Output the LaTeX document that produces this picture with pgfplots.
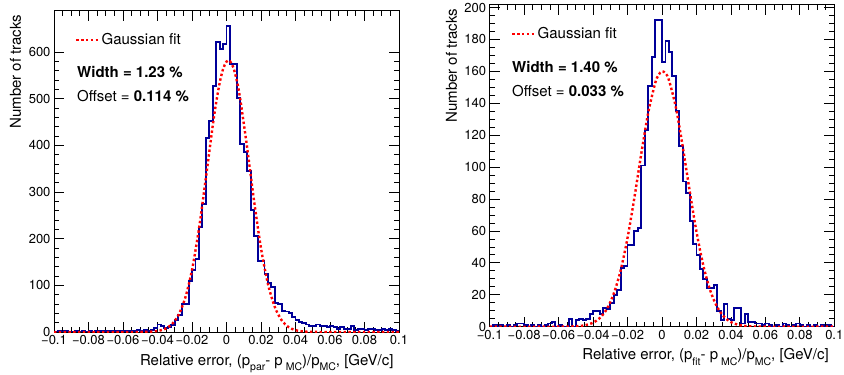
\documentclass[border=0pt]{standalone}
\usepackage{fontspec}
\setmainfont{TeX Gyre Heros}
\usepackage{pgfplots}
\usepackage{pgfplotstable}
\pgfplotsset{compat=1.18}
\definecolor{histblue}{RGB}{0,0,153}
\newcommand{\sub}[1]{\raisebox{-6pt}{\fontsize{10.5}{12}\selectfont #1}}

\pgfplotstableread{
x y
-0.100 1
-0.098 2
-0.096 1
-0.094 2
-0.092 1
-0.090 1
-0.088 2
-0.086 1
-0.084 2
-0.082 1
-0.080 2
-0.078 1
-0.076 2
-0.074 3
-0.072 2
-0.070 2
-0.068 3
-0.066 2
-0.064 2
-0.062 3
-0.060 2
-0.058 3
-0.056 3
-0.054 2
-0.052 4
-0.050 3
-0.048 4
-0.046 3
-0.044 5
-0.042 8
-0.040 16
-0.038 13
-0.036 8
-0.034 11
-0.032 15
-0.030 26
-0.028 36
-0.026 60
-0.024 60
-0.022 110
-0.020 132
-0.018 157
-0.016 226
-0.014 275
-0.012 415
-0.010 452
-0.008 527
-0.006 622
-0.004 606
-0.002 618
0.000 655
0.002 575
0.004 575
0.006 501
0.008 403
0.010 386
0.012 346
0.014 262
0.016 205
0.018 153
0.020 153
0.022 125
0.024 105
0.026 97
0.028 63
0.030 60
0.032 45
0.034 44
0.036 40
0.038 32
0.040 25
0.042 21
0.044 19
0.046 16
0.048 12
0.050 13
0.052 16
0.054 13
0.056 12
0.058 11
0.060 13
0.062 11
0.064 7
0.066 11
0.068 7
0.070 7
0.072 12
0.074 5
0.076 6
0.078 6
0.080 4
0.082 7
0.084 6
0.086 5
0.088 4
0.090 6
0.092 4
0.094 7
0.096 5
0.098 2
0.100 2
}\histA

\pgfplotstableread{
x y
-0.100 0
-0.098 1
-0.096 0
-0.094 1
-0.092 0
-0.090 1
-0.088 0
-0.086 1
-0.084 2
-0.082 2
-0.080 1
-0.078 0
-0.076 1
-0.074 0
-0.072 1
-0.070 0
-0.068 1
-0.066 2
-0.064 3
-0.062 0
-0.060 1
-0.058 0
-0.056 0
-0.054 5
-0.052 0
-0.050 4
-0.048 5
-0.046 4
-0.044 5
-0.042 8
-0.040 10
-0.038 10
-0.036 8
-0.034 12
-0.032 11
-0.030 15
-0.028 20
-0.026 23
-0.024 37
-0.022 38
-0.020 51
-0.018 51
-0.016 60
-0.014 62
-0.012 101
-0.010 123
-0.008 151
-0.006 169
-0.004 192
-0.002 192
0.000 166
0.002 179
0.004 172
0.006 157
0.008 135
0.010 113
0.012 91
0.014 84
0.016 66
0.018 52
0.020 45
0.022 36
0.024 30
0.026 24
0.028 24
0.030 26
0.032 10
0.034 4
0.036 14
0.038 5
0.040 4
0.042 12
0.044 12
0.046 2
0.048 8
0.050 3
0.052 3
0.054 2
0.056 2
0.058 1
0.060 2
0.062 1
0.064 0
0.066 1
0.068 0
0.070 2
0.072 1
0.074 0
0.076 1
0.078 2
0.080 1
0.082 0
0.084 1
0.086 0
0.088 1
0.090 0
0.092 1
0.094 0
0.096 1
0.098 0
0.100 0
}\histB

\pgfplotstableread{
x y
-0.100 0
-0.070 0
-0.060 0
-0.050 0.10
-0.045 0.51
-0.040 2.17
-0.036 6.09
-0.032 15.4
-0.028 35.2
-0.024 72.1
-0.020 132.9
-0.016 220.4
-0.012 329.0
-0.008 441.6
-0.006 491.7
-0.004 533.3
-0.002 563.4
0.000 579.5
0.002 580.6
0.004 566.5
0.006 538.3
0.008 498.2
0.012 394.1
0.016 280.5
0.020 179.7
0.024 103.5
0.028 53.6
0.032 25.0
0.036 10.5
0.040 3.96
0.045 1.01
0.050 0.22
0.060 0
0.070 0
0.100 0
}\fitA

\pgfplotstableread{
x y
-0.100 0
-0.070 0
-0.060 0.01
-0.050 0.25
-0.045 0.85
-0.040 2.52
-0.036 5.52
-0.032 11.1
-0.028 20.7
-0.024 35.3
-0.020 55.7
-0.016 81.0
-0.012 108.6
-0.008 134.0
-0.004 152.5
-0.002 157.8
0.000 160.0
0.002 158.9
0.004 154.6
0.008 137.7
0.012 113.0
0.016 85.5
0.020 59.6
0.024 38.3
0.028 22.7
0.032 12.4
0.036 6.23
0.040 2.89
0.045 0.99
0.050 0.30
0.060 0.01
0.070 0
0.100 0
}\fitB

\pgfplotsset{
  rootaxis/.style={
    scale only axis,
    xmin=-0.1, xmax=0.1, ymin=0,
    xtick={-0.1,-0.08,-0.06,-0.04,-0.02,0,0.02,0.04,0.06,0.08,0.1},
    xticklabels={−0.1,−0.08,−0.06,−0.04,−0.02,0,0.02,0.04,0.06,0.08,0.1},
    minor x tick num=3,
    tick align=inside,
    major tick length=10pt, minor tick length=5pt,
    every tick/.style={black, line width=0.8pt},
    axis line style={line width=1pt},
    ticklabel style={font=\fontsize{13}{15}\selectfont},
    /pgf/number format/assume math mode=true,
    label style={font=\fontsize{15}{18}\selectfont},
    xlabel style={at={(axis description cs:1,0)}, anchor=base east, yshift=-33pt, xshift=-2pt},
    legend style={draw=none, fill=none, inner sep=0pt, anchor=west,
      font=\fontsize{15}{18}\selectfont, legend cell align=left,
      /tikz/every even column/.append style={column sep=4pt}},
    legend image code/.code={\draw[red, line width=2.4pt, dash pattern=on 2.4pt off 2.4pt] (0pt,0pt) -- (22pt,0pt);},
  },
  histline/.style={const plot, histblue, line width=1.9pt, line join=miter, forget plot},
  fitline/.style={red, line width=2.4pt, dash pattern=on 2.4pt off 2.4pt, smooth},
}

\begin{document}
\begin{tikzpicture}
\useasboundingbox (0pt,0pt) rectangle (844pt,375pt);
\begin{axis}[rootaxis,
  at={(54pt,43pt)}, anchor=south west,
  width=345pt, height=321pt,
  ymax=688, ytick={0,100,200,300,400,500,600}, minor y tick num=4,
  xlabel={Relative error, (p\sub{par}- p\sub{ MC})/p\sub{MC}, [GeV/c]},
  ylabel={Number of tracks},
  ylabel style={at={(axis description cs:-0.0957,1.0)}, anchor=base east},
  legend style={at={(axis description cs:0.061,0.91)}},
]
\addplot[histline] table[x=x,y=y] {\histA};
\addplot[fitline] table[x=x,y=y] {\fitA};
\addlegendentry{Gaussian fit}
\node[anchor=west, inner sep=0pt, font=\fontsize{15}{18}\selectfont\bfseries] at (axis description cs:0.0667,0.81) {Width = 1.23 \%};
\node[anchor=west, inner sep=0pt, font=\fontsize{15}{18}\selectfont] at (axis description cs:0.0667,0.735) {Offset = \textbf{0.114 \%}};
\end{axis}

\begin{axis}[rootaxis,
  at={(489.7pt,48.3pt)}, anchor=south west,
  width=344.6pt, height=321.7pt,
  ymax=201.6, ytick={0,20,40,60,80,100,120,140,160,180,200}, minor y tick num=3,
  xlabel={Relative error, (p\sub{fit}- p\sub{ MC})/p\sub{MC}, [GeV/c]},
  ylabel={Number of tracks},
  ylabel style={at={(axis description cs:-0.095,1.0)}, anchor=base east},
  legend style={at={(axis description cs:0.062,0.91)}},
]
\addplot[histline] table[x=x,y=y] {\histB};
\addplot[fitline] table[x=x,y=y] {\fitB};
\addlegendentry{Gaussian fit}
\node[anchor=west, inner sep=0pt, font=\fontsize{15}{18}\selectfont\bfseries] at (axis description cs:0.0647,0.807) {Width = 1.40 \%};
\node[anchor=west, inner sep=0pt, font=\fontsize{15}{18}\selectfont] at (axis description cs:0.0647,0.733) {Offset = \textbf{0.033 \%}};
\end{axis}
\end{tikzpicture}
\end{document}
